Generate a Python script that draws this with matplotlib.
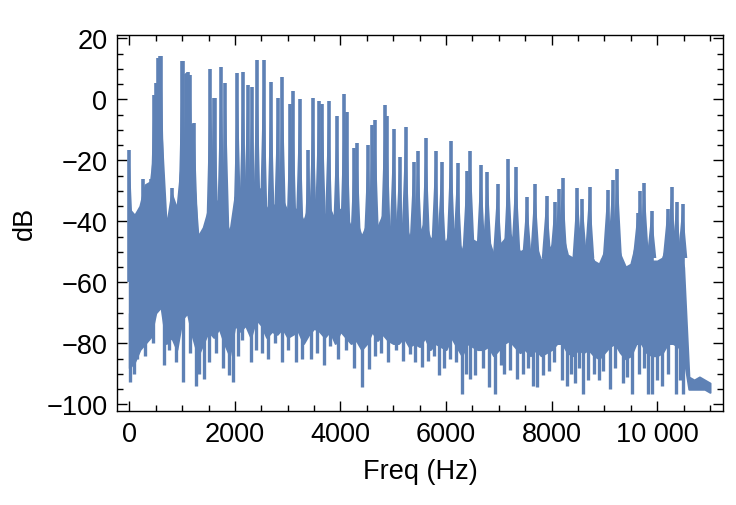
import numpy as np
import matplotlib
matplotlib.use('Agg')
import matplotlib.pyplot as plt
from matplotlib.ticker import MultipleLocator, FuncFormatter

# dense noise band of the spectrum, read every 100 Hz (upper / lower edge, dB)
band_freq = np.arange(0, 11100, 100)
band_hi = [-36, -38, -35, -28, -27, -12, -10, -42, -31, -36,
           -18, -14, -22, -45, -42, -36, -34, -33, -38, -44,
           -32, -34, -32, -35, -28, -30, -36, -34, -36, -33,
           -37, -36, -36, -40, -35, -34, -35, -38, -36, -40,
           -36, -38, -42, -40, -45, -41, -37, -42, -38, -41,
           -44, -43, -40, -45, -43, -44, -40, -46, -44, -45,
           -47, -41, -45, -50, -43, -46, -47, -48, -46, -51,
           -48, -46, -44, -47, -50, -49, -52, -48, -53, -50,
           -48, -45, -44, -51, -52, -48, -50, -49, -53, -54,
           -50, -47, -45, -51, -55, -54, -47, -46, -51, -53,
           -53, -52, -47, -47, -48, -55, -91, -92, -91, -92,
           -93]
band_lo = [-88, -86, -82, -80, -78, -70, -68, -80, -78, -82,
           -72, -70, -78, -84, -80, -76, -78, -75, -80, -84,
           -74, -76, -74, -78, -72, -74, -78, -76, -77, -75,
           -78, -77, -76, -80, -77, -75, -76, -78, -76, -80,
           -76, -78, -80, -79, -82, -80, -76, -79, -77, -79,
           -80, -80, -78, -81, -80, -81, -78, -82, -80, -81,
           -82, -78, -81, -84, -80, -81, -82, -82, -81, -84,
           -82, -80, -79, -81, -83, -82, -84, -82, -84, -83,
           -82, -80, -80, -83, -84, -82, -83, -82, -84, -85,
           -83, -81, -80, -83, -85, -84, -80, -80, -83, -84,
           -84, -83, -80, -80, -81, -84, -95, -95, -95, -95,
           -96]

# harmonic peaks (Hz, dB)
peak_freq = [0, 266, 405, 462, 506, 543, 565, 587, 605, 802,
             998, 1011, 1074, 1093, 1118, 1156, 1213, 1232, 1535, 1598,
             1617, 1737, 1819, 2046, 2153, 2241, 2323, 2418, 2545, 2684,
             2810, 2898, 3050, 3094, 3226, 3391, 3479, 3586, 3656, 3776,
             3934, 4073, 4117, 4262, 4312, 4521, 4603, 4653, 4843, 4875,
             5007, 5120, 5234, 5386, 5468, 5619, 5802, 5915, 6092, 6218,
             6395, 6458, 6660, 6780, 6976, 7178, 7323, 7532, 7683, 7904,
             8062, 8138, 8207, 8485, 8580, 8718, 9059, 9154, 9242, 9627,
             9677, 9754, 9893, 10196, 10272, 10366, 10480]
peak_db = [-16.6, -26, -26, 1.4, 5.2, 13.4, 13.7, 14.2, 14.3, -29,
           12.6, 12.4, 8.3, 8.5, 8.8, 8.0, -8, -7.8, 10, 0.4,
           0.4, 10.5, 5.2, 8.6, 8.8, 4.7, 4, 13, 13, 5.8,
           0.4, 7.4, -1.5, 2.8, 0, -16.6, 0.3, -0.7, -1.5, -0.7,
           -5.5, 1.6, -4.2, -16, -14.4, -15, -8.4, -6.7, -1.9, -5.5,
           -9.7, -19, -9, -20.6, -16.8, -12.8, -17, -20.6, -13.5, -21,
           -23.4, -17, -21.4, -23.9, -27.7, -19.7, -22.3, -32, -27.7, -31.7,
           -33.7, -29.3, -25.8, -29, -32.6, -28.8, -29.6, -26.3, -22.8, -37.3,
           -30, -27.5, -36.5, -36, -28.8, -33.7, -34.4]

# narrow dips below the band (Hz, dB)
dip_freq = [10, 80, 150, 300, 450, 650, 750, 890, 1010, 1150,
            1260, 1320, 1420, 1500, 1650, 1780, 1895, 1970, 2050, 2130,
            2300, 2400, 2510, 2620, 2760, 2900, 3000, 3150, 3280, 3435,
            3550, 3680, 3800, 3950, 4100, 4250, 4410, 4540, 4650, 4760,
            4900, 5050, 5190, 5316, 5420, 5537, 5663, 5780, 5871, 5960,
            6073, 6180, 6294, 6380, 6452, 6547, 6700, 6818, 6926, 7050,
            7100, 7210, 7336, 7450, 7560, 7640, 7727, 7841, 7950, 8050,
            8188, 8283, 8360, 8440, 8520, 8586, 8693, 8800, 8895, 8980,
            9104, 9200, 9343, 9420, 9527, 9650, 9750, 9830, 9906, 10000,
            10095, 10200, 10354, 10430, 10493]
dip_db = [-92.6, -90, -85, -84, -80, -87, -82, -86, -92.6, -83,
          -93.8, -90, -91.6, -86, -83, -88, -90.5, -92.6, -84, -79,
          -86, -82, -83, -85, -80, -86, -82, -86, -85, -85,
          -83, -87, -81, -85, -82, -88, -94.3, -88.3, -84, -83,
          -86, -82, -85.6, -83.3, -86, -87.8, -85.6, -84, -90.5, -88,
          -85, -86, -96.5, -90, -91.5, -90.5, -88, -94.3, -96.5, -87,
          -90, -88.8, -91.5, -90, -88, -93.8, -94.2, -90.5, -89, -86,
          -92, -94, -90, -93, -88, -96.5, -92, -90, -92, -89,
          -95, -88, -93, -91, -96.5, -90, -88, -96.5, -96.5, -92,
          -94, -90, -96.5, -92, -96.5]

col = '#5E81B5'
plt.rcParams['font.family'] = ['Liberation Sans', 'DejaVu Sans']

fig = plt.figure(figsize=(7.36, 5.06), dpi=100)
ax = fig.add_axes([0.159, 0.186, 0.823, 0.743])

ax.fill_between(band_freq, band_lo, band_hi, color=col, lw=1.5, edgecolor=col)
# each peak gets a narrow skirt down into the band (never left of 0 Hz)
for f, p in zip(peak_freq, peak_db):
    ax.fill([max(f - 90, 0), f, f + 90], [-52, p, -52], color=col, lw=0)
ax.vlines(peak_freq, -60, peak_db, color=col, lw=2.6)
ax.vlines(dip_freq, -70, dip_db, color=col, lw=2.4)

ax.set_xlim(-233, 11242)
ax.set_ylim(-102.1, 21.1)

ax.xaxis.set_major_locator(MultipleLocator(2000))
ax.xaxis.set_minor_locator(MultipleLocator(500))
ax.yaxis.set_major_locator(MultipleLocator(20))
ax.yaxis.set_minor_locator(MultipleLocator(5))


def xfmt(v, p):
    s = str(int(v))
    if len(s) > 4:
        s = s[:-3] + ' ' + s[-3:]
    return s


ax.xaxis.set_major_formatter(FuncFormatter(xfmt))
ax.yaxis.set_major_formatter(FuncFormatter(
    lambda v, p: '{:d}'.format(int(v)).replace('-', '\u2212')))

ax.tick_params(which='both', direction='in', top=True, right=True,
               labelsize=19.5, width=1)
ax.tick_params(which='major', length=7, pad=7)
ax.tick_params(which='minor', length=4)
for s in ax.spines.values():
    s.set_linewidth(1)

ax.set_xlabel('Freq (Hz)', fontsize=19.5, labelpad=8)
ax.set_ylabel('dB', fontsize=19.5, labelpad=6)

fig.savefig('out.png', dpi=100)
